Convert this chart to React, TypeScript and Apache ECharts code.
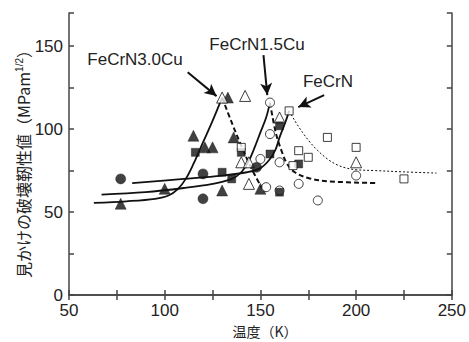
import React, { useEffect, useRef } from "react";
import * as echarts from "echarts";

const filledTri: number[][] = [[77, 55], [100, 64], [115, 96], [121, 89], [125, 89], [133, 119], [136, 95], [130, 63], [150, 64]];
const openTri: number[][] = [[130, 119], [142, 120], [140, 80], [144, 80], [144, 67], [160, 107], [200, 80]];
const filledCircle: number[][] = [[77, 70], [120, 73], [120, 58], [148, 77]];
const openCircle: number[][] = [[155, 116], [155, 97], [150, 82], [153, 65], [160, 63], [160, 80], [170, 67], [180, 57], [200, 72]];
const filledSquare: number[][] = [[116, 86], [130, 74], [135, 70], [140, 86], [155, 85], [160, 102], [170, 79], [160, 62]];
const openSquare: number[][] = [[140, 89], [165, 111], [170, 87], [175, 83], [167, 78], [185, 95], [200, 89], [225, 70]];

const cu30Solid: number[][] = [[63, 55.5], [80, 56.5], [95, 58], [102, 60], [107, 64], [111, 70], [115, 79], [120, 92], [125, 105], [130, 119]];
const cu15Solid: number[][] = [[67, 60.5], [90, 62], [110, 64.5], [125, 67], [135, 70], [140, 74], [144, 81], [147, 89], [150, 98], [153, 107], [155, 116]];
const fecrnSolid: number[][] = [[83, 67.5], [110, 70], [130, 72], [143, 74], [150, 76.5], [155, 82], [158, 88], [160, 95], [163, 104], [165, 111]];
const cu30Dash: number[][] = [[130, 119], [135, 104], [140, 90], [145, 77], [151, 64]];
const cu15Dash: number[][] = [[155, 116], [158, 98], [161, 87], [164, 79], [168, 74], [175, 70.5], [186, 68.5], [210, 67.5]];
const fecrnDot: number[][] = [[165, 111], [168, 105], [172, 98], [176, 92], [180, 87], [185, 82], [190, 78.5], [195, 76.5], [200, 75.5], [210, 75], [225, 74.2], [242, 73.5]];

const xTicks = [50, 100, 150, 200, 250];
const yTicks = [0, 50, 100, 150];

const arrows: number[][][] = [
  [[112, 134.3], [127.1, 119.9]],
  [[151.6, 144.6], [153.6, 120.5]],
  [[183.3, 120.5], [169.8, 113.3]],
];

const FONT = "'Liberation Sans', Arial, sans-serif";

export default function App() {
  const ref = useRef<HTMLDivElement>(null);
  useEffect(() => {
    if (!ref.current) return;
    const chart = echarts.init(ref.current, undefined, { renderer: "svg" });
    const axisCommon = {
      type: "value" as const,
      interval: 25,
      axisLine: { show: true, lineStyle: { color: "#444", width: 1.5 } },
      axisTick: { show: true, inside: true, length: 5, lineStyle: { color: "#444", width: 1.5 } },
      splitLine: { show: false },
    };
    const scatter = (data: number[][], symbol: string, filled: boolean, size: number) => ({
      type: "scatter",
      data,
      symbol,
      symbolSize: size,
      z: 5,
      itemStyle: filled
        ? { color: "#111", borderColor: "#111", borderWidth: 0.5 }
        : { color: "#fff", borderColor: "#111", borderWidth: 1 },
    });
    const line = (data: number[][], type: any, width: number) => ({
      type: "line",
      data,
      smooth: 0.35,
      symbol: "none",
      z: 3,
      lineStyle: { color: "#111", width, type },
    });
    chart.setOption({
      animation: false,
      grid: { left: 69, top: 13, right: 16, bottom: 47 },
      xAxis: [
        {
          ...axisCommon,
          min: 50,
          max: 250,
          position: "bottom",
          axisLabel: {
            color: "#222",
            fontSize: 17,
            fontFamily: FONT,
            margin: 7,
            formatter: (v: number) => (xTicks.includes(v) ? String(v) : ""),
          },
        },
        { ...axisCommon, min: 50, max: 250, position: "top", axisLabel: { show: false } },
      ],
      yAxis: [
        {
          ...axisCommon,
          min: 0,
          max: 170,
          position: "left",
          axisLabel: {
            color: "#222",
            fontSize: 17,
            fontFamily: FONT,
            margin: 6,
            formatter: (v: number) => (yTicks.includes(v) ? String(v) : ""),
          },
        },
        { ...axisCommon, min: 0, max: 170, position: "right", axisLabel: { show: false } },
      ],
      series: [
        line(cu30Solid, "solid", 1.8),
        line(cu15Solid, "solid", 1.8),
        line(fecrnSolid, "solid", 1.8),
        line(cu30Dash, [5, 3], 2),
        line(cu15Dash, [5, 3], 2),
        line(fecrnDot, [2, 2], 1),
        {
          type: "line",
          data: [],
          markLine: {
            silent: true,
            symbol: ["none", "arrow"],
            symbolSize: [9, 12],
            label: { show: false },
            lineStyle: { color: "#111", width: 2, type: "solid" },
            data: arrows.map((a) => [{ coord: a[0] }, { coord: a[1] }]),
          },
        },
        scatter(filledTri, "triangle", true, 11),
        scatter(openTri, "triangle", false, 11),
        scatter(filledCircle, "circle", true, 10),
        scatter(openCircle, "circle", false, 9),
        scatter(filledSquare, "rect", true, 8),
        scatter(openSquare, "rect", false, 8),
      ],
      graphic: [
        { type: "text", x: 135, y: 59, style: { text: "FeCrN3.0Cu", font: `17px ${FONT}`, fill: "#222", align: "center", verticalAlign: "middle" } },
        { type: "text", x: 257, y: 44, style: { text: "FeCrN1.5Cu", font: `17px ${FONT}`, fill: "#222", align: "center", verticalAlign: "middle" } },
        { type: "text", x: 328, y: 81, style: { text: "FeCrN", font: `17px ${FONT}`, fill: "#222", align: "center", verticalAlign: "middle" } },
        { type: "text", x: 265, y: 331, style: { text: "温度（K）", font: `14px 'Noto Sans CJK JP', sans-serif`, fill: "#222", align: "center", verticalAlign: "middle" } },
        {
          type: "text",
          x: 23,
          y: 160,
          rotation: Math.PI / 2,
          style: {
            text: "{a|見かけの破壊靭性値（MPam}{s|1/2}{a|）}",
            align: "center",
            verticalAlign: "middle",
            fill: "#222",
            rich: {
              a: { fontSize: 16, fontFamily: "'Noto Sans CJK JP', sans-serif", fill: "#222" },
              s: { fontSize: 10, fontFamily: FONT, fill: "#222", verticalAlign: "top", padding: [0, 0, 8, 0] },
            },
          },
        },
      ],
    });
    return () => chart.dispose();
  }, []);
  return <div ref={ref} style={{ position: "absolute", left: 0, top: 0, width: 469, height: 342 }} />;
}
